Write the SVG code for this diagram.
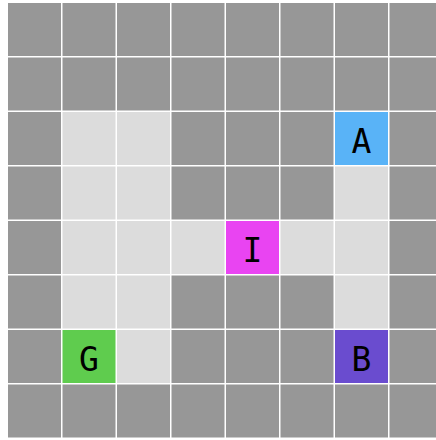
<svg xmlns="http://www.w3.org/2000/svg" width="436" height="440" viewBox="0 0 436 440">
<style>
.c{fill:#979797}
.l{fill:#dcdcdc}
.t{font-family:"DejaVu Sans Mono",monospace;font-size:33px;fill:#000;text-anchor:middle}
</style>
<rect width="436" height="440" fill="#fff"/>
<g id="grid">
<rect class="c" x="8" y="3" width="53" height="53"/><rect class="c" x="62.5" y="3" width="53" height="53"/><rect class="c" x="117" y="3" width="53" height="53"/><rect class="c" x="171.5" y="3" width="53" height="53"/><rect class="c" x="226" y="3" width="53" height="53"/><rect class="c" x="280.5" y="3" width="53" height="53"/><rect class="c" x="335" y="3" width="53" height="53"/><rect class="c" x="389.5" y="3" width="53" height="53"/>
<rect class="c" x="8" y="57.5" width="53" height="53"/><rect class="c" x="62.5" y="57.5" width="53" height="53"/><rect class="c" x="117" y="57.5" width="53" height="53"/><rect class="c" x="171.5" y="57.5" width="53" height="53"/><rect class="c" x="226" y="57.5" width="53" height="53"/><rect class="c" x="280.5" y="57.5" width="53" height="53"/><rect class="c" x="335" y="57.5" width="53" height="53"/><rect class="c" x="389.5" y="57.5" width="53" height="53"/>
<rect class="c" x="8" y="112" width="53" height="53"/><rect class="l" x="62.5" y="112" width="53" height="53"/><rect class="l" x="117" y="112" width="53" height="53"/><rect class="c" x="171.5" y="112" width="53" height="53"/><rect class="c" x="226" y="112" width="53" height="53"/><rect class="c" x="280.5" y="112" width="53" height="53"/><rect class="c" x="389.5" y="112" width="53" height="53"/>
<rect class="c" x="8" y="166.5" width="53" height="53"/><rect class="l" x="62.5" y="166.5" width="53" height="53"/><rect class="l" x="117" y="166.5" width="53" height="53"/><rect class="c" x="171.5" y="166.5" width="53" height="53"/><rect class="c" x="226" y="166.5" width="53" height="53"/><rect class="c" x="280.5" y="166.5" width="53" height="53"/><rect class="l" x="335" y="166.5" width="53" height="53"/><rect class="c" x="389.5" y="166.5" width="53" height="53"/>
<rect class="c" x="8" y="221" width="53" height="53"/><rect class="l" x="62.5" y="221" width="53" height="53"/><rect class="l" x="117" y="221" width="53" height="53"/><rect class="l" x="171.5" y="221" width="53" height="53"/><rect class="l" x="280.5" y="221" width="53" height="53"/><rect class="l" x="335" y="221" width="53" height="53"/><rect class="c" x="389.5" y="221" width="53" height="53"/>
<rect class="c" x="8" y="275.5" width="53" height="53"/><rect class="l" x="62.5" y="275.5" width="53" height="53"/><rect class="l" x="117" y="275.5" width="53" height="53"/><rect class="c" x="171.5" y="275.5" width="53" height="53"/><rect class="c" x="226" y="275.5" width="53" height="53"/><rect class="c" x="280.5" y="275.5" width="53" height="53"/><rect class="l" x="335" y="275.5" width="53" height="53"/><rect class="c" x="389.5" y="275.5" width="53" height="53"/>
<rect class="c" x="8" y="330" width="53" height="53"/><rect class="l" x="117" y="330" width="53" height="53"/><rect class="c" x="171.5" y="330" width="53" height="53"/><rect class="c" x="226" y="330" width="53" height="53"/><rect class="c" x="280.5" y="330" width="53" height="53"/><rect class="c" x="389.5" y="330" width="53" height="53"/>
<rect class="c" x="8" y="384.5" width="53" height="53"/><rect class="c" x="62.5" y="384.5" width="53" height="53"/><rect class="c" x="117" y="384.5" width="53" height="53"/><rect class="c" x="171.5" y="384.5" width="53" height="53"/><rect class="c" x="226" y="384.5" width="53" height="53"/><rect class="c" x="280.5" y="384.5" width="53" height="53"/><rect class="c" x="335" y="384.5" width="53" height="53"/><rect class="c" x="389.5" y="384.5" width="53" height="53"/>
</g>
<g id="A"><rect x="335" y="112" width="53" height="53" fill="#59b3f7"/><text class="t" x="361.5" y="153">A</text></g>
<g id="I"><rect x="226" y="221" width="53" height="53" fill="#e944f2"/><text class="t" x="252.5" y="262">I</text></g>
<g id="G"><rect x="62.5" y="330" width="53" height="53" fill="#5fcc4e"/><text class="t" x="89" y="371">G</text></g>
<g id="B"><rect x="335" y="330" width="53" height="53" fill="#6a4ccf"/><text class="t" x="361.5" y="371">B</text></g>
<g id="connectors"></g>
</svg>
